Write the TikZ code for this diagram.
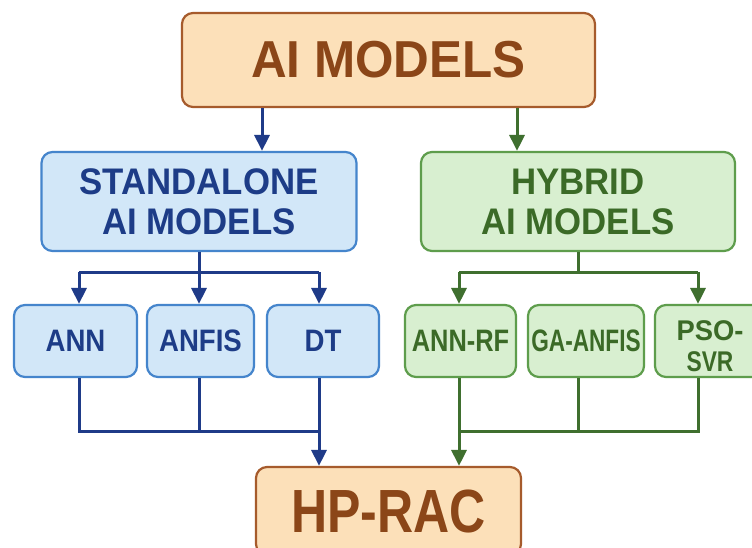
\documentclass[tikz,border=0pt]{standalone}
\usepackage{fontspec}
\setmainfont{Liberation Sans}
\usetikzlibrary{arrows.meta,calc}

\definecolor{orfill}{HTML}{FCE0B9}
\definecolor{ordraw}{HTML}{A65B2C}
\definecolor{ortext}{HTML}{8B4618}
\definecolor{blfill}{HTML}{D2E7F8}
\definecolor{bldraw}{HTML}{4585CC}
\definecolor{bltext}{HTML}{1D3C87}
\definecolor{blline}{HTML}{1F3B88}
\definecolor{grfill}{HTML}{D8EFD0}
\definecolor{grdraw}{HTML}{5E9D4C}
\definecolor{grtext}{HTML}{3B6A27}
\definecolor{grline}{HTML}{3F6F2F}

% horizontally condensed text
\newcommand{\sqz}[2]{\scalebox{#1}[1]{#2}}

\tikzset{
  box/.style={rounded corners=11pt, line width=2.2pt, inner sep=0pt,
    align=center},
  orbox/.style={box, fill=orfill, draw=ordraw, text=ortext},
  blbox/.style={box, fill=blfill, draw=bldraw, text=bltext},
  grbox/.style={box, fill=grfill, draw=grdraw, text=grtext},
  leaf/.style={minimum height=72pt, font=\bfseries\fontsize{31}{34}\selectfont},
  bwire/.style={draw=blline, line width=3pt},
  gwire/.style={draw=grline, line width=3pt},
  tipped/.style={-{Triangle[length=16pt,width=15pt]}},
}

\begin{document}
\begin{tikzpicture}[x=1pt,y=-1pt]
\useasboundingbox (0,0) rectangle (752,547);
\clip (0,0) rectangle (752,547);
\fill[white] (0,0) rectangle (752,547);

% top and bottom boxes
\node[orbox, minimum width=413pt, minimum height=94pt,
      font=\bfseries\fontsize{52}{56}\selectfont]
  (top) at (388.5,60) {\sqz{0.95}{AI MODELS}};
\node[orbox, minimum width=265pt, minimum height=88pt,
      font=\bfseries\fontsize{61}{66}\selectfont]
  (hp) at (388.5,511) {\sqz{0.82}{HP-RAC}};

% group boxes
\node[blbox, minimum width=315pt, minimum height=99pt,
      font=\bfseries\fontsize{37}{40}\selectfont]
  (sa) at (199,201.5) {\sqz{0.94}{STANDALONE}\\\sqz{0.94}{AI MODELS}};
\node[grbox, minimum width=314pt, minimum height=99pt,
      font=\bfseries\fontsize{37}{40}\selectfont]
  (hy) at (578,201.5) {\sqz{0.94}{HYBRID}\\\sqz{0.94}{AI MODELS}};

% standalone models
\node[blbox, leaf, minimum width=123pt] (ann)   at (75.5,341) {\sqz{0.89}{ANN}};
\node[blbox, leaf, minimum width=107pt] (anfis) at (200.5,341) {\sqz{0.89}{ANFIS}};
\node[blbox, leaf, minimum width=112pt] (dt)    at (323,341) {\sqz{0.89}{DT}};
% hybrid models
\node[grbox, leaf, minimum width=111pt] (annrf) at (460.5,341) {\sqz{0.82}{ANN-RF}};
\node[grbox, leaf, minimum width=116pt] (ga)    at (586,341) {\sqz{0.73}{GA-ANFIS}};
\node[grbox, leaf, minimum width=110pt] (pso)   at (710,341) {};
\node[text=grtext, align=center, inner sep=0pt,
      font=\bfseries\fontsize{28.5}{31.5}\selectfont]
  (psotext) at ([yshift=-5pt]pso.center) {\sqz{0.96}{PSO-}\\\sqz{0.8}{SVR}};

% junction points
\coordinate (bx) at (262,0);
\coordinate (gx) at (517,0);
\coordinate (b1) at (79,272);  \coordinate (b2) at (199,272);  \coordinate (b3) at (319,272);
\coordinate (c1) at (79,431);  \coordinate (c2) at (199,431);  \coordinate (c3) at (319,431);
\coordinate (g1) at (459,272); \coordinate (g2) at (578,272);  \coordinate (g3) at (698,272);
\coordinate (h1) at (459,431); \coordinate (h2) at (578,431);  \coordinate (h3) at (698,431);

% top level split
\draw[bwire, tipped] (top.south -| bx) -- (sa.north -| bx);
\draw[gwire, tipped] (top.south -| gx) -- (hy.north -| gx);

% standalone branch
\draw[bwire] (sa.south) -- (b2);
\draw[bwire] (b1) -- (b3);
\draw[bwire, tipped] (b1) -- (b1 |- ann.north);
\draw[bwire, tipped] (b2) -- (b2 |- anfis.north);
\draw[bwire, tipped] (b3) -- (b3 |- dt.north);
\draw[bwire] (c1 |- ann.south) -- (c1) -- (c3);
\draw[bwire] (c2 |- anfis.south) -- (c2);
\draw[bwire, tipped] (c3 |- dt.south) -- (c3 |- hp.north);

% hybrid branch
\draw[gwire] (hy.south) -- (g2);
\draw[gwire] (g1) -- (g3);
\draw[gwire, tipped] (g1) -- (g1 |- annrf.north);
\draw[gwire, tipped] (g3) -- (g3 |- pso.north);
\draw[gwire] (h1) -- (h3) -- (h3 |- pso.south);
\draw[gwire] (h2 |- ga.south) -- (h2);
\draw[gwire, tipped] (h1 |- annrf.south) -- (h1 |- hp.north);
\end{tikzpicture}
\end{document}
